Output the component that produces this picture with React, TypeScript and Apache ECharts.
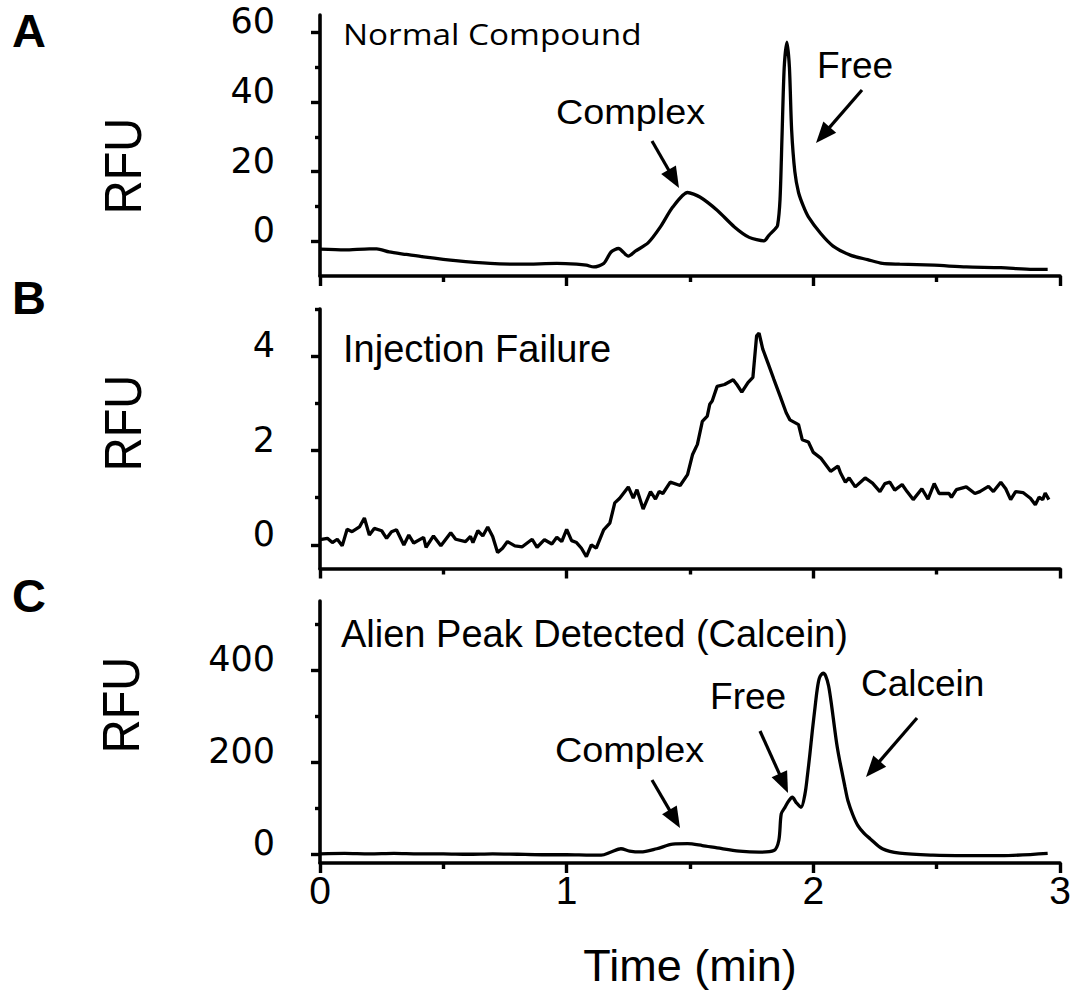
import React, { useEffect, useRef } from "react";
import * as echarts from "echarts";

// Panel A — normal compound trace (time in min, RFU)
const timeA = [0, 0.1, 0.2, 0.23, 0.28, 0.35, 0.42, 0.55, 0.69, 0.82, 0.96, 1.04, 1.08, 1.11, 1.15, 1.18, 1.21, 1.25, 1.28, 1.33, 1.38, 1.43, 1.49, 1.54, 1.61, 1.68, 1.74, 1.8, 1.82, 1.845, 1.855, 1.865, 1.873, 1.882, 1.893, 1.903, 1.912, 1.925, 1.94, 1.96, 1.98, 2.03, 2.08, 2.15, 2.22, 2.28, 2.35, 2.49, 2.62, 2.76, 2.89, 2.95];
const rfuA = [-2.3, -2.5, -2.2, -2.2, -3.1, -3.8, -4.5, -5.6, -6.4, -6.6, -6.4, -6.6, -6.9, -7.4, -6.4, -3.1, -2.1, -4.3, -2.8, -0.5, 4.1, 9.8, 14.0, 12.7, 8.9, 4.1, 1.1, 0.1, 1.7, 3.5, 4.5, 12, 30, 50, 57.2, 50, 32, 20, 14, 10, 7, 2.2, -1.4, -4.0, -5.3, -6.4, -6.6, -6.9, -7.4, -7.6, -8.1, -8.1];

// Panel B — injection failure trace
const timeB = [0, 0.03, 0.05, 0.07, 0.09, 0.11, 0.13, 0.16, 0.18, 0.2, 0.22, 0.25, 0.27, 0.29, 0.31, 0.34, 0.36, 0.38, 0.42, 0.43, 0.46, 0.49, 0.53, 0.55, 0.59, 0.61, 0.62, 0.64, 0.66, 0.68, 0.7, 0.72, 0.74, 0.76, 0.79, 0.82, 0.86, 0.88, 0.91, 0.94, 0.96, 0.98, 1.0, 1.02, 1.04, 1.06, 1.08, 1.1, 1.12, 1.15, 1.175, 1.195, 1.215, 1.25, 1.27, 1.285, 1.31, 1.34, 1.36, 1.375, 1.39, 1.42, 1.46, 1.49, 1.51, 1.53, 1.55, 1.57, 1.58, 1.59, 1.61, 1.64, 1.675, 1.69, 1.71, 1.735, 1.755, 1.77, 1.78, 1.795, 1.815, 1.84, 1.865, 1.89, 1.905, 1.94, 1.955, 1.98, 2.0, 2.03, 2.07, 2.1, 2.11, 2.13, 2.145, 2.17, 2.21, 2.24, 2.27, 2.29, 2.31, 2.33, 2.36, 2.38, 2.405, 2.44, 2.465, 2.49, 2.51, 2.55, 2.56, 2.58, 2.62, 2.655, 2.675, 2.71, 2.73, 2.76, 2.78, 2.8, 2.82, 2.85, 2.88, 2.9, 2.915, 2.93, 2.94, 2.955];
const rfuB = [0.11, 0.14, 0.05, 0.12, -0.02, 0.33, 0.28, 0.38, 0.57, 0.21, 0.35, 0.3, 0.14, 0.28, 0.32, 0.0, 0.21, 0.04, 0.16, -0.05, 0.19, -0.02, 0.26, 0.12, 0.07, 0.18, 0.05, 0.3, 0.19, 0.38, 0.18, -0.16, -0.07, 0.07, -0.02, -0.04, 0.12, -0.05, 0.11, 0.02, 0.16, 0.07, 0.33, 0.09, 0.05, -0.07, -0.25, 0.0, -0.07, 0.32, 0.46, 0.89, 0.99, 1.23, 0.99, 1.17, 0.76, 1.13, 0.97, 1.13, 1.09, 1.33, 1.26, 1.49, 1.91, 2.13, 2.62, 2.73, 2.98, 3.05, 3.36, 3.4, 3.5, 3.4, 3.24, 3.44, 3.55, 4.43, 4.49, 4.15, 3.87, 3.51, 3.16, 2.8, 2.65, 2.55, 2.23, 2.18, 1.96, 1.84, 1.56, 1.67, 1.53, 1.33, 1.42, 1.23, 1.42, 1.31, 1.13, 1.3, 1.33, 1.16, 1.28, 1.13, 0.96, 1.19, 0.97, 1.3, 1.09, 1.09, 1.01, 1.17, 1.23, 1.09, 1.13, 1.24, 1.13, 1.33, 1.19, 0.96, 1.13, 1.11, 0.99, 0.85, 1.01, 0.96, 1.1, 0.96];

// Panel C — alien peak (calcein) trace
const timeC = [0, 0.1, 0.2, 0.3, 0.4, 0.5, 0.6, 0.7, 0.8, 0.9, 1.0, 1.1, 1.14, 1.18, 1.22, 1.255, 1.3, 1.365, 1.43, 1.49, 1.55, 1.61, 1.7, 1.78, 1.84, 1.86, 1.87, 1.885, 1.9, 1.915, 1.93, 1.95, 1.966, 1.976, 1.986, 1.996, 2.007, 2.015, 2.025, 2.04, 2.05, 2.062, 2.075, 2.085, 2.095, 2.105, 2.115, 2.128, 2.14, 2.16, 2.18, 2.205, 2.23, 2.28, 2.35, 2.485, 2.62, 2.76, 2.95];
const rfuC = [0, 1, 0, 1, 0, 0, -1, 0, -1, -2, -2, -3, -3, 4, 11, 6, 4, 11, 21, 22, 18, 13, 6, 3.5, 7, 29, 87, 101, 115, 123, 112, 101, 130, 170, 217, 268, 319, 355, 383, 393, 387, 365, 319, 278, 239, 208, 181, 146, 116, 85, 62, 45, 33, 11, 1.5, -3, -4, -4, 1];

// Y-axis ranges and tick values for each panel
const rangeA = [-10, 65];
const rangeB = [-0.5, 5];
const rangeC = [-20, 550];
const majorA = [0, 20, 40, 60];
const minorA = [10, 30, 50];
const majorB = [0, 2, 4];
const minorB = [1, 3, 5];
const majorC = [0, 200, 400];
const minorC = [100, 300, 500];

const panelLetters = ["A", "B", "C"];
const yTitle = "RFU";
const xTitle = "Time (min)";

const BLACK = "#000";

function arrow(x1: number, y1: number, x2: number, y2: number) {
  const dx = x2 - x1;
  const dy = y2 - y1;
  const len = Math.sqrt(dx * dx + dy * dy);
  const ux = dx / len;
  const uy = dy / len;
  const head = 21;
  const half = 8.5;
  const bx = x2 - ux * head;
  const by = y2 - uy * head;
  return [
    {
      type: "line",
      shape: { x1, y1, x2: bx + ux * 2, y2: by + uy * 2 },
      style: { stroke: BLACK, lineWidth: 3.2 },
      silent: true,
    },
    {
      type: "polygon",
      shape: {
        points: [
          [x2, y2],
          [bx - uy * half, by + ux * half],
          [bx + uy * half, by - ux * half],
        ],
      },
      style: { fill: BLACK },
      silent: true,
    },
  ];
}

function label(text: string, x: number, y: number, size: number, opts: any = {}) {
  return {
    type: "text",
    x,
    y,
    scaleX: opts.scaleX ?? 1,
    scaleY: opts.scaleY ?? 1,
    rotation: opts.rotation ?? 0,
    silent: true,
    style: {
      text,
      fontSize: size,
      fontFamily: opts.family ?? "'Liberation Sans', Arial, sans-serif",
      fontWeight: opts.weight ?? "normal",
      fill: BLACK,
      align: opts.align ?? "left",
      verticalAlign: "middle",
    },
  };
}

export default function App() {
  const ref = useRef<HTMLDivElement>(null);

  useEffect(() => {
    if (!ref.current) return;
    const chart = echarts.init(ref.current, undefined, { renderer: "svg" });

    const panels = [
      { box: { left: 320, top: 15, width: 740, height: 261 }, range: rangeA, major: majorA, minor: minorA, t: timeA, v: rfuA, smooth: 0.25 },
      { box: { left: 320, top: 309, width: 740, height: 259.5 }, range: rangeB, major: majorB, minor: minorB, t: timeB, v: rfuB, smooth: false },
      { box: { left: 320, top: 601, width: 740, height: 262 }, range: rangeC, major: majorC, minor: minorC, t: timeC, v: rfuC, smooth: 0.3 },
    ];

    const axisLineStyle = { color: BLACK, width: 3.6 };
    const tickStyle = { color: BLACK, width: 3.4 };

    const xAxis = panels.map((_, i) => ({
      type: "value",
      gridIndex: i,
      min: 0,
      max: 3,
      interval: 1,
      axisLine: { show: true, onZero: false, lineStyle: axisLineStyle },
      axisTick: { show: true, length: 10, lineStyle: tickStyle },
      minorTick: { show: true, splitNumber: 2, length: 6, lineStyle: tickStyle },
      splitLine: { show: false },
      minorSplitLine: { show: false },
      axisLabel:
        i === 2
          ? { show: true, margin: 8, color: BLACK, fontSize: 39, fontFamily: "'Liberation Sans', Arial, sans-serif" }
          : { show: false },
      name: i === 2 ? xTitle : "",
      nameLocation: "middle",
      nameGap: 80,
      nameTextStyle: { color: BLACK, fontSize: 45, fontFamily: "'Liberation Sans', Arial, sans-serif" },
    }));

    const yAxis = panels.flatMap((p, i) => [
      {
        type: "value",
        gridIndex: i,
        position: "left",
        min: p.range[0],
        max: p.range[1],
        axisLine: { show: true, onZero: false, lineStyle: axisLineStyle },
        axisTick: { show: true, customValues: p.major, length: 9, lineStyle: tickStyle },
        axisLabel: {
          show: true,
          customValues: p.major,
          margin: 45,
          color: BLACK,
          fontSize: 35,
          fontFamily: "'DejaVu Sans', sans-serif",
          verticalAlign: "bottom",
          lineHeight: 22,
        },
        splitLine: { show: false },
      },
      {
        type: "value",
        gridIndex: i,
        position: "left",
        min: p.range[0],
        max: p.range[1],
        axisLine: { show: false, onZero: false },
        axisTick: { show: true, customValues: p.minor, length: 5, lineStyle: tickStyle },
        axisLabel: { show: false },
        splitLine: { show: false },
      },
    ]);

    const series = panels.map((p, i) => ({
      type: "line",
      xAxisIndex: i,
      yAxisIndex: i * 2,
      data: p.t.map((t, k) => [t, p.v[k]]),
      showSymbol: false,
      symbol: "none",
      silent: true,
      smooth: p.smooth,
      lineStyle: { color: BLACK, width: 3.3 },
    }));

    const letterFont = { family: "'Liberation Sans', Arial, sans-serif", weight: "bold" };
    const rfuOpts = { align: "center", rotation: Math.PI / 2, scaleY: 1.1 };

    const graphic = [
      label(panelLetters[0], 12, 30, 47, letterFont),
      label(panelLetters[1], 12, 297, 47, letterFont),
      label(panelLetters[2], 12, 595, 47, letterFont),
      label(yTitle, 123, 166, 47, rfuOpts),
      label(yTitle, 123, 423, 47, rfuOpts),
      label(yTitle, 121, 705, 47, rfuOpts),
      label("Normal Compound", 343, 33, 30, { family: "'Open Sans', sans-serif", scaleX: 1.11 }),
      label("Complex", 556, 111.5, 35, { scaleX: 1.08 }),
      label("Free", 817, 66, 36, { scaleX: 1.03 }),
      label("Injection Failure", 343, 349, 38),
      label("Alien Peak Detected (Calcein)", 341, 633.5, 38),
      label("Complex", 555, 750, 35, { scaleX: 1.08 }),
      label("Free", 710, 697, 36, { scaleX: 1.03 }),
      label("Calcein", 861, 683, 37),
      ...arrow(652, 141, 679, 188),
      ...arrow(862, 90, 816, 143),
      ...arrow(652, 780, 680, 828),
      ...arrow(760, 731, 788, 793),
      ...arrow(917, 718, 866, 777),
    ];

    chart.setOption({
      animation: false,
      backgroundColor: "#fff",
      grid: panels.map((p) => ({ ...p.box, containLabel: false })),
      xAxis,
      yAxis,
      series,
      graphic,
    } as any);

    return () => chart.dispose();
  }, []);

  return (
    <div
      ref={ref}
      style={{ position: "fixed", left: 0, top: 0, width: 1076, height: 996, background: "#fff" }}
    />
  );
}
